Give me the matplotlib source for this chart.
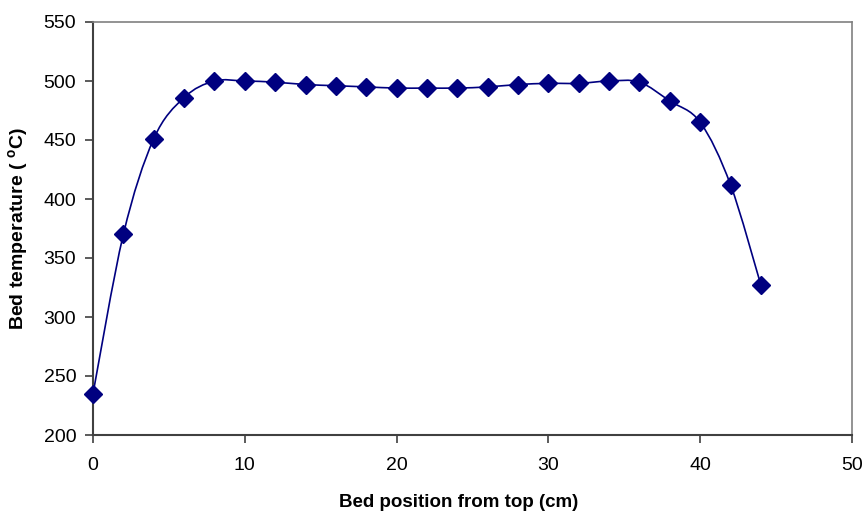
import matplotlib.pyplot as plt
from matplotlib.path import Path
from matplotlib.patches import PathPatch

plt.rcParams['font.family'] = ['Liberation Sans', 'DejaVu Sans']

# bed position from top (cm) and bed temperature (C)
position = [0, 2, 4, 6, 8, 10, 12, 14, 16, 18, 20, 22, 24, 26, 28, 30, 32, 34, 36, 38, 40, 42, 44]
temperature = [235, 370, 451, 486, 500, 500, 499, 497, 496, 495, 494, 494, 494, 495, 497, 498, 498, 500, 499, 483, 465, 412, 327]

x_ticks = [0, 10, 20, 30, 40, 50]
y_ticks = [200, 250, 300, 350, 400, 450, 500, 550]


def smooth_path(xs, ys):
    # Excel-like smoothed line: cubic bezier segments through the points
    pts = list(zip(xs, ys))
    verts = [pts[0]]
    codes = [Path.MOVETO]
    n = len(pts)
    for i in range(n - 1):
        p0 = pts[i - 1] if i > 0 else pts[i]
        p1 = pts[i]
        p2 = pts[i + 1]
        p3 = pts[i + 2] if i + 2 < n else pts[i + 1]
        c1 = (p1[0] + (p2[0] - p0[0]) / 6, p1[1] + (p2[1] - p0[1]) / 6)
        c2 = (p2[0] - (p3[0] - p1[0]) / 6, p2[1] - (p3[1] - p1[1]) / 6)
        verts += [c1, c2, p2]
        codes += [Path.CURVE4] * 3
    return Path(verts, codes)


fig = plt.figure(figsize=(8.66, 5.12), dpi=100)
ax = fig.add_axes([93 / 866, 1 - 435 / 512, (852 - 93) / 866, (435 - 22) / 512])

ax.add_patch(PathPatch(smooth_path(position, temperature), fill=False,
                       edgecolor='#000080', lw=1.2, zorder=2))
ax.plot(position, temperature, linestyle='none', marker='D', markersize=9,
        color='#000080', zorder=3, clip_on=False)

ax.set_xlim(0, 50)
ax.set_ylim(200, 550)
ax.set_xticks(x_ticks)
ax.set_yticks(y_ticks)
ax.tick_params(axis='both', direction='out', length=6, width=1.2,
               color='#404040', labelsize=14, pad=6)
ax.tick_params(axis='x', pad=10)

for side in ['left', 'bottom']:
    ax.spines[side].set_color('#404040')
    ax.spines[side].set_linewidth(1.5)
for side in ['top', 'right']:
    ax.spines[side].set_color('#808080')
    ax.spines[side].set_linewidth(1.2)

ax.set_xlabel('Bed position from top (cm)', fontsize=13.5, fontweight='bold', labelpad=14)
ax.xaxis.label.set_x(0.482)
ax.set_ylabel('Bed temperature ( $^\\mathregular{o}$C)', fontsize=14, fontweight='bold', labelpad=9)

plt.savefig('out.png', dpi=100)
